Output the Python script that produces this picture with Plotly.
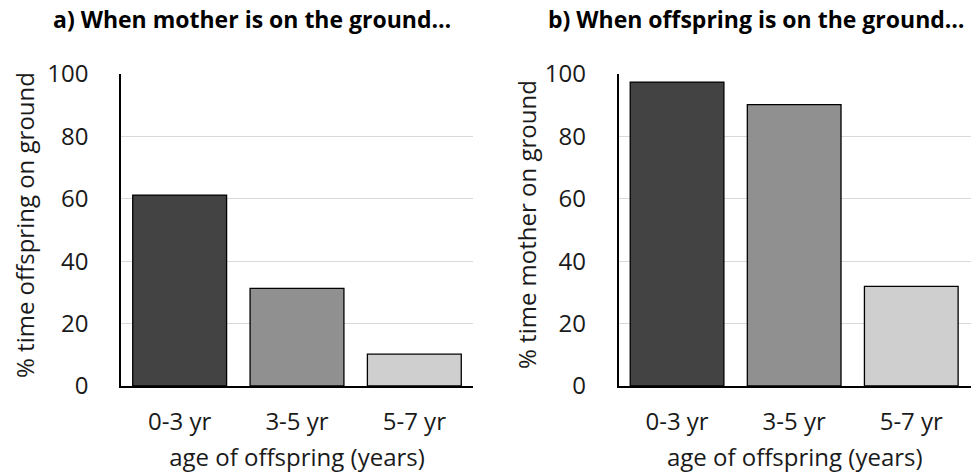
import plotly.graph_objects as go

# Age classes of the offspring
age_classes = ["0-3 yr", "3-5 yr", "5-7 yr"]

# a) % time offspring on ground while mother is on the ground
offspring_on_ground = [61.2, 31.3, 10.2]
# b) % time mother on ground while offspring is on the ground
mother_on_ground = [97.4, 90.2, 31.9]

bar_colors = ["#434343", "#909090", "#cfcfcf"]
y_ticks = [0, 20, 40, 60, 80, 100]

FONT = "Open Sans"
W, H = 971, 476
M_T, M_B = 74, 90

fig = go.Figure()

fig.add_trace(go.Bar(
    x=age_classes, y=offspring_on_ground,
    marker=dict(color=bar_colors, line=dict(color="black", width=1.3)),
    xaxis="x", yaxis="y", showlegend=False,
))
fig.add_trace(go.Bar(
    x=age_classes, y=mother_on_ground,
    marker=dict(color=bar_colors, line=dict(color="black", width=1.3)),
    xaxis="x2", yaxis="y2", showlegend=False,
))

left_dom = [121 / W, 473 / W]
right_dom = [618.5 / W, 1.0]

xaxis_common = dict(
    showline=True, linecolor="black", linewidth=1.6,
    ticks="", showgrid=False, zeroline=False,
    ticklabelstandoff=13,
    tickfont=dict(family=FONT, size=24, color="#1a1a1a"),
    title=dict(text="age of offspring (years)", standoff=14,
               font=dict(family=FONT, size=24, color="#1a1a1a")),
    fixedrange=True,
)
yaxis_common = dict(
    range=[0, 100], tickvals=y_ticks,
    showline=True, linecolor="black", linewidth=1.6,
    showgrid=True, gridcolor="#d9d9d9", gridwidth=1.2,
    zeroline=False, ticks="", ticklabelstandoff=26,
    tickfont=dict(family=FONT, size=24, color="#1a1a1a"),
    fixedrange=True,
)


def px_x(px):
    """Horizontal pixel position -> paper fraction."""
    return px / W


def px_y(py):
    """Vertical pixel position (from top) -> paper fraction."""
    return (H - py - M_B) / (H - M_T - M_B)


annotations = [
    dict(text="<b>a) When mother is on the ground…</b>", x=px_x(252), y=px_y(19),
         font=dict(family=FONT, size=23, color="black")),
    dict(text="<b>b) When offspring is on the ground…</b>", x=px_x(756), y=px_y(19),
         font=dict(family=FONT, size=23, color="black")),
    dict(text="% time offspring on ground", textangle=-90, x=px_x(25), y=px_y(225),
         font=dict(family=FONT, size=24, color="#1a1a1a")),
    dict(text="% time mother on ground", textangle=-90, x=px_x(527), y=px_y(225),
         font=dict(family=FONT, size=24, color="#1a1a1a")),
]
for a in annotations:
    a.update(xref="paper", yref="paper", showarrow=False,
             xanchor="center", yanchor="middle")

fig.update_layout(
    width=W, height=H,
    margin=dict(l=0, r=0, t=M_T, b=M_B),
    paper_bgcolor="white", plot_bgcolor="white",
    bargap=0.2,
    xaxis=dict(domain=left_dom, anchor="y", range=[-0.5, 2.5], **xaxis_common),
    yaxis=dict(domain=[0, 1], anchor="x", **yaxis_common),
    xaxis2=dict(domain=right_dom, anchor="y2", range=[-0.5, 2.51], **xaxis_common),
    yaxis2=dict(domain=[0, 1], anchor="x2", **yaxis_common),
    annotations=annotations,
)

fig.write_html("out.html")
